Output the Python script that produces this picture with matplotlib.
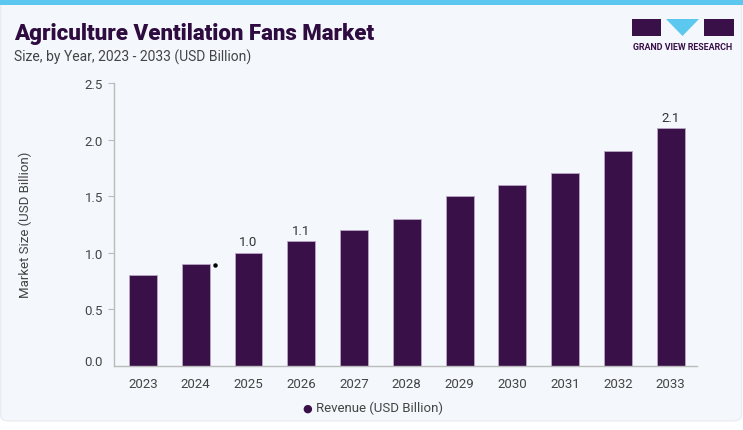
import matplotlib
matplotlib.use("Agg")
import matplotlib.pyplot as plt
from matplotlib.patches import FancyBboxPatch, Rectangle, Polygon
from matplotlib.transforms import ScaledTranslation

years = ["2023", "2024", "2025", "2026", "2027", "2028", "2029", "2030", "2031", "2032", "2033"]
revenue = [0.8, 0.9, 1.0, 1.1, 1.2, 1.3, 1.5, 1.6, 1.7, 1.9, 2.1]
labeled_years = ["2025", "2026", "2033"]
y_ticks = [0.0, 0.5, 1.0, 1.5, 2.0, 2.5]

BAR = "#3A1048"
TITLE = "#2E0C40"
BG = "#F4F7FB"

plt.rcParams['font.family'] = ['Roboto', 'DejaVu Sans']

fig = plt.figure(figsize=(7.43, 4.31), dpi=100)
fig.patch.set_facecolor("white")

# card background
card = FancyBboxPatch((0.001, 0.021), 0.997, 0.984, boxstyle="round,pad=0,rounding_size=0.012",
                      transform=fig.transFigure, facecolor=BG, edgecolor="#E6EAF0", lw=0.8, zorder=-10)
fig.patches.append(card)
top = Rectangle((0, 0.985), 1, 0.015, transform=fig.transFigure, facecolor="#5CC8F0",
                edgecolor="none", zorder=-9)
fig.patches.append(top)

ax = fig.add_axes([0.1534, 0.1495, 0.7846, 0.6555])
ax.set_zorder(5)
ax.set_facecolor("none")
x = list(range(len(years)))
bars = ax.bar(x, revenue, width=0.53, color=BAR, edgecolor="#B9A6C4", linewidth=0.6, zorder=2)
for xi, yr, v in zip(x, years, revenue):
    if yr in labeled_years:
        ax.text(xi, v + 0.04, f"{v:.1f}", ha="center", va="bottom", fontsize=9.5, color="#333333")

# small dot marker near 2024 bar
ax.plot([years.index("2024") + 0.36], [revenue[1] - 0.01], marker="o", ms=2.2, color="black", zorder=3)

ax.set_xlim(-0.55, 10.5)
ax.set_ylim(0, 2.5)
ax.set_xticks(x)
ax.set_xticklabels(years)
ax.set_yticks(y_ticks)
ax.set_yticklabels([f"{t:.1f}" for t in y_ticks])
ax.tick_params(axis="both", labelsize=9.5, colors="#444444")
ax.tick_params(axis="x", length=0, pad=8)
ax.tick_params(axis="y", length=4, color="#BBBBBB", pad=4)
t0 = ax.yaxis.get_major_ticks()[0]
t0.tick1line.set_visible(False)
t0.label1.set_transform(t0.label1.get_transform() + ScaledTranslation(0, 4 / 72, fig.dpi_scale_trans))
for s in ["top", "right"]:
    ax.spines[s].set_visible(False)
for s in ["left", "bottom"]:
    ax.spines[s].set_color("#BBBBBB")
    ax.spines[s].set_linewidth(1.0)
ax.set_ylabel("Market Size (USD Billion)", fontsize=9.5, color="#444444", labelpad=38)

# legend
fig.text(0.413, 0.052, "\u25CF", fontsize=8, color=BAR, ha="center", va="center")
fig.text(0.425, 0.052, "Revenue (USD Billion)", fontsize=9.5, color="#444444", ha="left", va="center")

# title
fig.text(0.019, 0.922, "Agriculture Ventilation Fans Market", fontsize=16, fontweight="black",
         color=TITLE, ha="left", va="center")
fig.text(0.019, 0.867, "Size, by Year, 2023 - 2033 (USD Billion)", fontsize=10, color="#444444",
         ha="left", va="center")

# logo
def fx(px):
    return px / 743
def fy(py):
    return 1 - py / 431
logo_color = "#3A1048"
fig.patches.append(Rectangle((fx(632), fy(37)), fx(29), 17 / 431, transform=fig.transFigure,
                             facecolor=logo_color, edgecolor="none"))
fig.patches.append(Rectangle((fx(704), fy(37)), fx(30), 17 / 431, transform=fig.transFigure,
                             facecolor=logo_color, edgecolor="none"))
fig.patches.append(Polygon([(fx(666), fy(20)), (fx(699), fy(20)), (fx(682.5), fy(37))],
                           closed=True, transform=fig.transFigure, facecolor="#5CC8F0", edgecolor="none"))
fig.text(fx(683), fy(47.5), "GRAND VIEW RESEARCH", fontsize=6.4, fontweight="bold", color="#3A1048",
         ha="center", va="center")

fig.savefig("out.png", dpi=100, facecolor=fig.get_facecolor())
